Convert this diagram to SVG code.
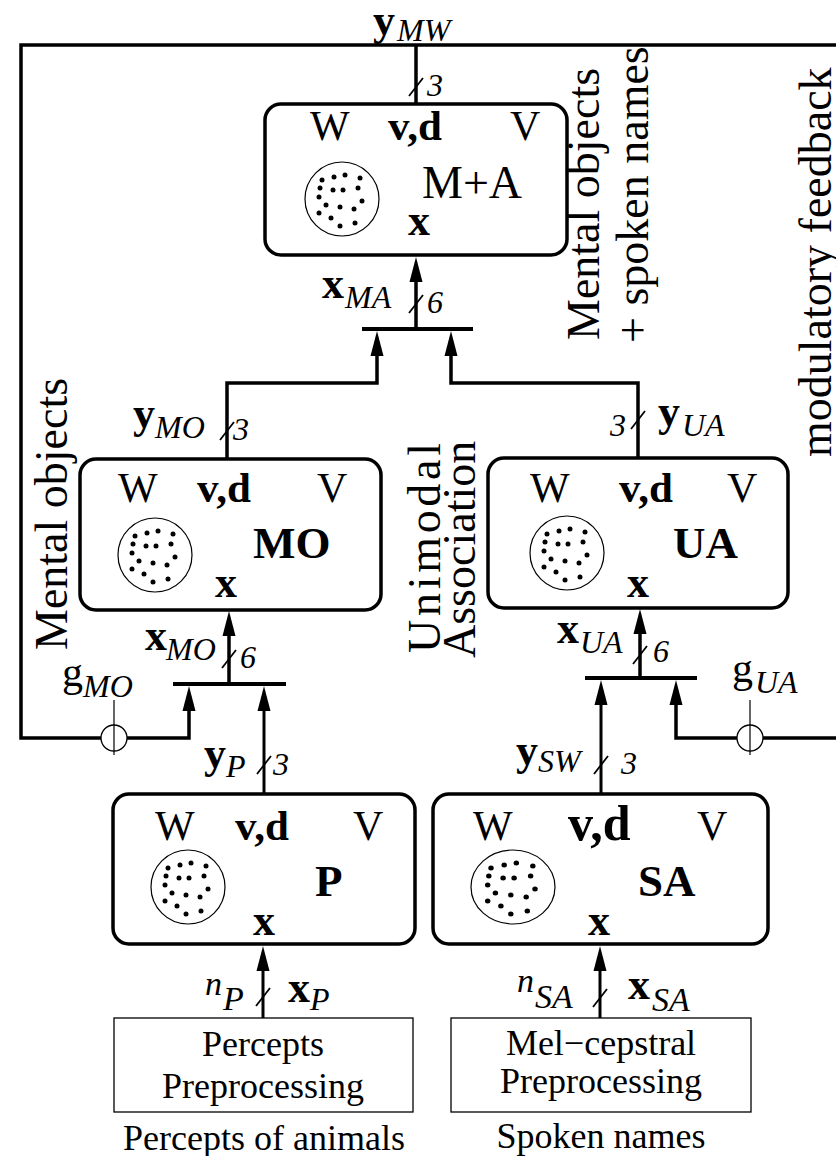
<svg xmlns="http://www.w3.org/2000/svg" xmlns:xlink="http://www.w3.org/1999/xlink" width="836" height="1156" viewBox="0 0 836 1156">
<style>
.box{fill:none;stroke:#000;stroke-width:3.5}
.pre{fill:#fff;stroke:#000;stroke-width:1.3}
.ln{fill:none;stroke:#000;stroke-width:3.5}
.bar{fill:none;stroke:#000;stroke-width:4}
.thin{fill:none;stroke:#000;stroke-width:1.2}
.sl{stroke:#000;stroke-width:1.8;fill:none}
.cir{fill:#fff;stroke:#000;stroke-width:1.3}
text{font-family:"Liberation Serif","Times New Roman",serif;fill:#000}
.r42{font-size:42px}
.r46{font-size:46px}
.b43{font-size:43px;font-weight:bold}
.b44{font-size:44px;font-weight:bold}
.b45{font-size:45px;font-weight:bold}
.i32{font-size:32px;font-style:italic}
.i34{font-size:34px;font-style:italic}
.r36{font-size:36px}
.rot{font-size:46px}
</style>
<defs>
<path id="ah" d="M0,0 L6.5,25 L-6.5,25 Z" fill="#000"/>
<path id="slash" d="M-7,9 L7,-9" class="sl"/>
<g id="dots" fill="#000">
<circle cx="-20" cy="-19" r="2.5"/><circle cx="-8" cy="-22" r="2.5"/><circle cx="3" cy="-24" r="2.5"/><circle cx="18" cy="-21" r="2.5"/>
<circle cx="-22" cy="-11" r="2.5"/><circle cx="-9" cy="-9" r="2.5"/><circle cx="1" cy="-9" r="2.5"/><circle cx="16" cy="-11" r="2.5"/>
<circle cx="-23" cy="-2" r="2.5"/><circle cx="20" cy="2" r="2.5"/><circle cx="-16" cy="6" r="2.5"/><circle cx="-2" cy="8" r="2.5"/>
<circle cx="12" cy="10" r="2.5"/><circle cx="-23" cy="14" r="2.5"/><circle cx="-11" cy="19" r="2.5"/><circle cx="-2" cy="27" r="2.5"/><circle cx="13" cy="24" r="2.5"/>
</g>
</defs>
<rect width="836" height="1156" fill="#fff"/>

<g id="connectors">
<path class="ln" d="M836,45 H21 V738 H189 V705"/>
<use href="#ah" x="189" y="686"/>
<path class="ln" d="M416,45 V104"/>
<path class="ln" d="M416,329 V275"/>
<use href="#ah" x="416" y="257"/>
<path class="bar" d="M362,329 H473"/>
<path class="ln" d="M227,459 V383 H377 V350"/>
<use href="#ah" x="377" y="331"/>
<path class="ln" d="M638,458 V383 H451 V350"/>
<use href="#ah" x="451" y="331"/>
<path class="ln" d="M229,684 V630"/>
<use href="#ah" x="229" y="611"/>
<path class="bar" d="M173,684 H286"/>
<path class="ln" style="stroke-width:3" d="M264,794 V705"/>
<use href="#ah" x="264" y="686"/>
<path class="ln" d="M640,678 V628"/>
<use href="#ah" x="640" y="609"/>
<path class="bar" d="M585,678 H697"/>
<path class="ln" style="stroke-width:3" d="M601,794 V700"/>
<use href="#ah" x="601" y="680"/>
<path class="ln" d="M836,738 H676 V700"/>
<use href="#ah" x="676" y="680"/>
<path class="ln" style="stroke-width:3" d="M263,1018 V968"/>
<use href="#ah" x="263" y="946"/>
<path class="ln" style="stroke-width:3" d="M600,1018 V968"/>
<use href="#ah" x="600" y="946"/>
<circle class="cir" cx="114" cy="738" r="13"/>
<path class="thin" d="M114,700 V755"/>
<circle class="cir" cx="750" cy="738" r="13"/>
<path class="thin" d="M750,700 V755"/>
<use href="#slash" x="416" y="87"/>
<use href="#slash" x="416" y="304"/>
<use href="#slash" x="227" y="431"/>
<use href="#slash" x="638" y="420"/>
<use href="#slash" x="229" y="659"/>
<use href="#slash" x="640" y="655"/>
<use href="#slash" x="264" y="765"/>
<use href="#slash" x="601" y="765"/>
<use href="#slash" x="263" y="997"/>
<use href="#slash" x="600" y="998"/>
</g>

<g id="labels">
<text x="373" y="35" class="b44">y</text><text x="397" y="41" class="i32">MW</text>
<text x="427" y="96" class="i32">3</text>
<text x="322" y="298" class="b44">x</text><text x="345" y="308" class="i32">MA</text>
<text x="427" y="313" class="i32">6</text>
<text x="133" y="428" class="b44">y</text><text x="155" y="438" class="i32">MO</text>
<text x="233" y="440" class="i32">3</text>
<text x="610" y="436" class="i32">3</text>
<text x="658" y="426" class="b44">y</text><text x="682" y="436" class="i32">UA</text>
<text x="145" y="650" class="b44">x</text><text x="166" y="660" class="i32">MO</text>
<text x="240" y="668" class="i32">6</text>
<text x="557" y="643" class="b44">x</text><text x="580" y="653" class="i32">UA</text>
<text x="653" y="662" class="i32">6</text>
<text x="62" y="686" class="r42">g</text><text x="83" y="697" class="i32">MO</text>
<text x="732" y="682" class="r42">g</text><text x="755" y="693" class="i32">UA</text>
<text x="204" y="768" class="b44">y</text><text x="226" y="777" class="i32">P</text>
<text x="273" y="775" class="i32">3</text>
<text x="516" y="765" class="b44">y</text><text x="538" y="772" class="i32">SW</text>
<text x="621" y="774" class="i32">3</text>
<text x="205" y="995" class="i34">n</text><text x="223" y="1010" class="i34">P</text>
<text x="288" y="1002" class="b44">x</text><text x="310" y="1010" class="i32">P</text>
<text x="517" y="992" class="i34">n</text><text x="535" y="1008" class="i34">SA</text>
<text x="628" y="999" class="b44">x</text><text x="652" y="1011" class="i34">SA</text>
<text class="rot" transform="translate(67,650) rotate(-90)">Mental objects</text>
<text class="rot" transform="translate(599,340) rotate(-90)">Mental objects</text>
<text class="rot" transform="translate(648,343) rotate(-90)">+ spoken names</text>
<text class="rot" transform="translate(831,457) rotate(-90)">modulatory feedback</text>
<text class="rot" transform="translate(440,653) rotate(-90)" textLength="210">Unimodal</text>
<text class="rot" transform="translate(475,658) rotate(-90)">Association</text>
</g>

<g id="node-MA">
<rect class="box" x="265" y="104" width="302" height="151" rx="16"/>
<text x="310" y="140" class="r42">W</text>
<text x="388" y="140" class="b43">v,d</text>
<text x="510" y="140" class="r42">V</text>
<circle class="thin" cx="342" cy="199" r="37"/>
<use href="#dots" transform="translate(342,199)"/>
<text x="422" y="198" class="r46">M+A</text>
<text x="408" y="235" class="b44">x</text>
</g>

<g id="node-MO">
<rect class="box" x="80" y="459" width="301" height="151" rx="16"/>
<text x="118" y="502" class="r42">W</text>
<text x="197" y="502" class="b43">v,d</text>
<text x="317" y="502" class="r42">V</text>
<circle class="thin" cx="155" cy="555" r="37"/>
<use href="#dots" transform="translate(155,555)"/>
<text x="253" y="558" class="b45">MO</text>
<text x="215" y="597" class="b44">x</text>
</g>

<g id="node-UA">
<rect class="box" x="488" y="458" width="300" height="150" rx="16"/>
<text x="530" y="502" class="r42">W</text>
<text x="619" y="502" class="b43">v,d</text>
<text x="727" y="502" class="r42">V</text>
<circle class="thin" cx="567" cy="553" r="37"/>
<use href="#dots" transform="translate(567,553)"/>
<text x="673" y="558" class="b45">UA</text>
<text x="627" y="597" class="b44">x</text>
</g>

<g id="node-P">
<rect class="box" x="113" y="794" width="302" height="150" rx="16"/>
<text x="155" y="840" class="r42">W</text>
<text x="235" y="840" class="b43">v,d</text>
<text x="353" y="840" class="r42">V</text>
<circle class="thin" cx="188" cy="887" r="37"/>
<use href="#dots" transform="translate(188,887)"/>
<text x="315" y="896" class="b45">P</text>
<text x="253" y="935" class="b44">x</text>
</g>

<g id="node-SA">
<rect class="box" x="433" y="794" width="335" height="150" rx="16"/>
<text x="473" y="840" class="r42">W</text>
<text x="568" y="840" class="b43" style="font-size:50px">v,d</text>
<text x="697" y="840" class="r42">V</text>
<ellipse class="thin" cx="513" cy="887" rx="42" ry="37"/>
<use href="#dots" transform="translate(513,887) scale(1.1,1)"/>
<text x="638" y="896" class="b45">SA</text>
<text x="588" y="935" class="b44">x</text>
</g>

<g id="node-prepP">
<rect class="pre" x="114" y="1018" width="299" height="94"/>
<text x="263" y="1056" class="r36" text-anchor="middle">Percepts</text>
<text x="263" y="1098" class="r36" text-anchor="middle">Preprocessing</text>
<text x="264" y="1150" class="r36" text-anchor="middle">Percepts of animals</text>
</g>

<g id="node-prepSA">
<rect class="pre" x="451" y="1018" width="300" height="94"/>
<text x="601" y="1055" class="r36" text-anchor="middle">Mel−cepstral</text>
<text x="601" y="1093" class="r36" text-anchor="middle">Preprocessing</text>
<text x="601" y="1148" class="r36" text-anchor="middle">Spoken names</text>
</g>
</svg>
